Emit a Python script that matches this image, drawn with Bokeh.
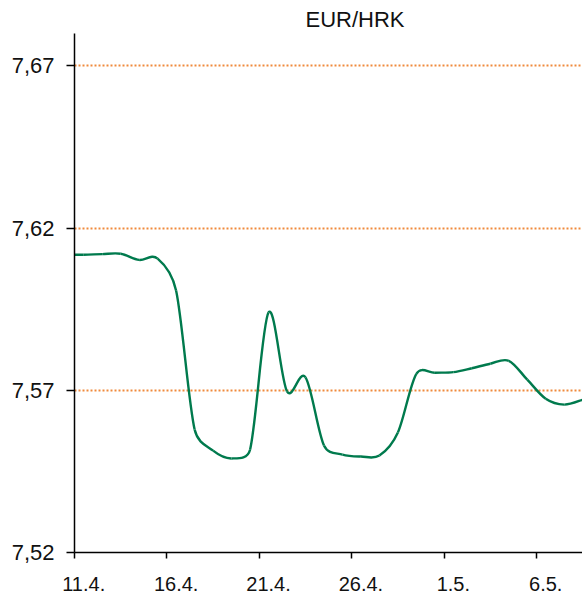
import numpy as np
from bokeh.plotting import figure
from bokeh.models import LinearAxis, FixedTicker, Range1d
from bokeh.embed import file_html
from bokeh.resources import INLINE

# ---- data ----
dates = ["10.4.", "11.4.", "12.4.", "13.4.", "14.4.", "15.4.", "16.4.", "17.4.",
         "18.4.", "19.4.", "20.4.", "21.4.", "22.4.", "23.4.", "24.4.", "25.4.",
         "26.4.", "27.4.", "28.4.", "29.4.", "30.4.", "1.5.", "2.5.", "3.5.",
         "4.5.", "5.5.", "6.5.", "7.5.", "8.5."]
rates = [7.6118, 7.6118, 7.6120, 7.6121, 7.6102, 7.6106, 7.6007, 7.5579,
         7.5514, 7.5490, 7.5517, 7.5940, 7.5697, 7.5740, 7.5530, 7.5502,
         7.5496, 7.5499, 7.5570, 7.5751, 7.5754, 7.5756, 7.5768, 7.5782,
         7.5791, 7.5733, 7.5674, 7.5656, 7.5671]
y_ticks = [7.52, 7.57, 7.62, 7.67]
y_tick_labels = ["7,52", "7,57", "7,62", "7,67"]
x_label_dates = ["11.4.", "16.4.", "21.4.", "26.4.", "1.5.", "6.5."]
title_text = "EUR/HRK"

X0, X1 = 0.0, 27.49
Y0, Y1 = 7.52, 7.68
W, H = 582, 593
LEFT, TOP, BOTTOM = 74, 33, 41

# day slots: slot i spans [i-1, i]; point sits in the middle of its slot
first = dates.index("11.4.")
xs = np.arange(len(dates)) - first + 0.5
ys = np.array(rates)

# smoothed bezier segments (Excel-style: arm 1/6 of neighbour chord,
# limited to half of the segment, measured on screen)
sx = (W - LEFT) / (X1 - X0)
sy = (H - TOP - BOTTOM) / (Y1 - Y0)
P = np.column_stack([xs, ys])
S = np.column_stack([xs * sx, ys * sy])
n = len(P)
c0 = np.zeros((n - 1, 2))
c1 = np.zeros((n - 1, 2))
for i in range(n - 1):
    a, b = i - 1 if i > 0 else i, i + 2 if i + 2 < n else i + 1
    d12 = np.hypot(*(S[i + 1] - S[i]))
    d02 = np.hypot(*(S[i + 1] - S[a]))
    d13 = np.hypot(*(S[b] - S[i]))
    f1 = 1 / 6 if d02 / 6 < d12 / 2 else (d12 / 2 / d02 if d02 > 0 else 0)
    f2 = 1 / 6 if d13 / 6 < d12 / 2 else (d12 / 2 / d13 if d13 > 0 else 0)
    c0[i] = P[i] + f1 * (P[i + 1] - P[a])
    c1[i] = P[i + 1] - f2 * (P[b] - P[i])

LINE = "#007A4D"
GRID = "#F08A3C"
FONT = "Liberation Sans"

p = figure(width=W, height=H, x_range=Range1d(X0, X1),
           y_range=Range1d(Y0, Y1), output_backend="svg",
           toolbar_location=None, x_axis_location=None, y_axis_location=None,
           min_border_left=LEFT, min_border_right=0, min_border_top=TOP,
           min_border_bottom=0, background_fill_color="white",
           border_fill_color="white")
p.outline_line_color = None

p.title.text = title_text
p.title.text_font = FONT
p.title.text_font_size = "22px"
p.title.text_font_style = "normal"
p.title.align = "left"
p.title.offset = 231
p.title.standoff = 4
p.title.text_color = "#111111"

# y axis
ya = LinearAxis(ticker=FixedTicker(ticks=y_ticks),
                major_label_overrides={t: l for t, l in zip(y_ticks, y_tick_labels)})
ya.major_tick_out = 8
ya.major_tick_in = 0
ya.minor_tick_out = 0
ya.minor_tick_in = 0
ya.major_tick_line_width = 1.5
ya.axis_line_width = 1.5
ya.axis_line_color = "black"
ya.major_tick_line_color = "black"
ya.major_label_text_font = FONT
ya.major_label_text_font_size = "22px"
ya.major_label_text_color = "#111111"
ya.major_label_standoff = 12
p.add_layout(ya, "left")

# x axis: labels at slot centres, tick marks (minor) at slot boundaries
lab_pos = [float(xs[dates.index(d)]) for d in x_label_dates]
xa = LinearAxis(ticker=FixedTicker(ticks=lab_pos, minor_ticks=[0, 5, 10, 15, 20, 25]),
                major_label_overrides={t: l for t, l in zip(lab_pos, x_label_dates)})
xa.major_tick_line_color = None
xa.major_tick_out = 0
xa.major_tick_in = 0
xa.minor_tick_out = 6
xa.minor_tick_in = 0
xa.minor_tick_line_width = 1.5
xa.minor_tick_line_color = "black"
xa.axis_line_width = 1.5
xa.axis_line_color = "black"
xa.major_label_standoff = 18
xa.major_label_text_font = FONT
xa.major_label_text_font_size = "20px"
xa.major_label_text_color = "#111111"
p.add_layout(xa, "below")

# grid
p.ygrid.ticker = FixedTicker(ticks=y_ticks)
p.ygrid.grid_line_color = GRID
p.ygrid.grid_line_dash = "2 2"
p.ygrid.grid_line_width = 2
p.xgrid.grid_line_color = None

p.bezier(x0=P[:-1, 0], y0=P[:-1, 1], x1=P[1:, 0], y1=P[1:, 1],
         cx0=c0[:, 0], cy0=c0[:, 1], cx1=c1[:, 0], cy1=c1[:, 1],
         line_color=LINE, line_width=2.4)

open("out.html", "w").write(file_html(p, INLINE))
